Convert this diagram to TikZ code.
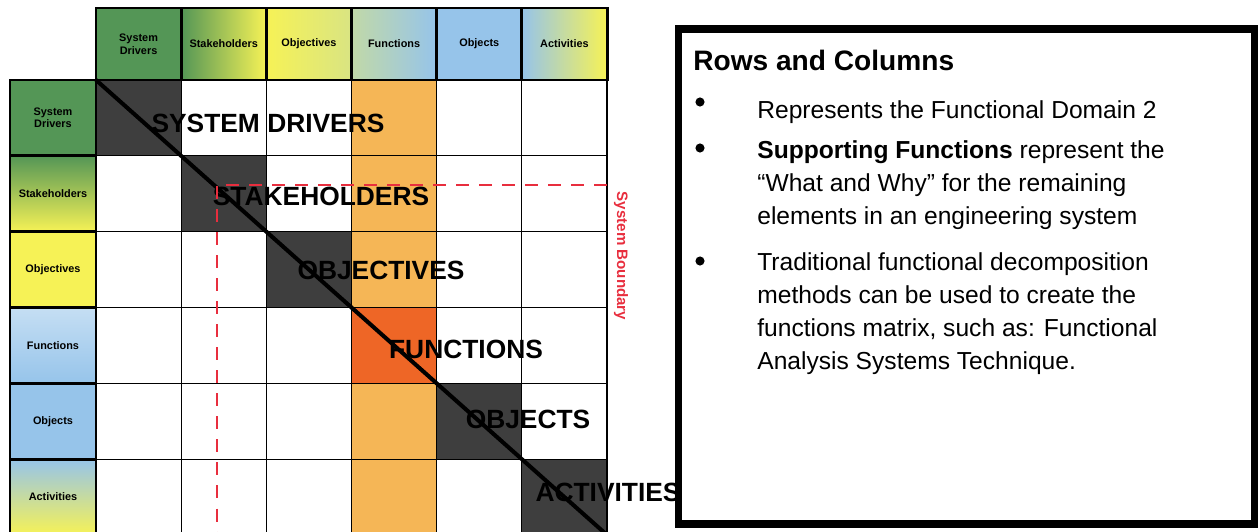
\documentclass[tikz,border=0pt]{standalone}
\usepackage{fontspec}
\setmainfont{Liberation Sans}
\definecolor{cGreen}{RGB}{84,150,86}
\definecolor{cYellow}{RGB}{246,242,86}
\definecolor{cBlue}{RGB}{150,196,234}
\definecolor{cOrange}{RGB}{245,182,86}
\definecolor{cRed}{RGB}{238,102,38}
\definecolor{cDark}{RGB}{62,62,62}
\definecolor{cBound}{RGB}{232,46,62}
\tikzset{
  cell/.style={draw=black, line width=0.7pt},
  hdr/.style={draw=black, line width=1.7pt},
  hdtxt/.style={font=\fontsize{6.2}{7.2}\selectfont\bfseries, align=center},
  diaglbl/.style={font=\fontsize{15}{15}\selectfont\bfseries},
  bound/.style={draw=cBound, line width=1.7pt, dash pattern=on 7.4pt off 5.7pt},
  bullettxt/.style={anchor=north west, inner sep=0pt, align=left,
    font=\fontsize{14}{18.8}\selectfont, execute at begin node=\strut},
  shG/.style={fill=cGreen},
  shY/.style={fill=cYellow},
  shB/.style={fill=cBlue},
  shGYh/.style={left color=cGreen, middle color=cGreen!55!cYellow, right color=cYellow},
  shYBh/.style={left color=cYellow, middle color=cYellow, right color=cYellow!70!cBlue},
  shYBh2/.style={left color=cYellow!45!cBlue, right color=cBlue},
  shBYh/.style={left color=cBlue, right color=cYellow},
  shGYv/.style={top color=cGreen, bottom color=cYellow},
  shBv/.style={top color=cBlue!55!white, bottom color=cBlue},
  shBYv/.style={top color=cBlue, bottom color=cYellow}
}
\begin{document}
\begin{tikzpicture}[x=0.02cm,y=-0.02cm]
\useasboundingbox (0,0) rectangle (1258,531);
\clip (0,0) rectangle (1258,531);
% matrix body
\foreach \r in {1,...,6}{
  \foreach \c in {1,...,6}{
    \def\col{white}
    \ifnum\c=4 \def\col{cOrange}\fi
    \ifnum\r=\c \def\col{cDark}\ifnum\c=4 \def\col{cRed}\fi\fi
    \draw[cell, fill=\col] ({96+(\c-1)*85.17},{80+(\r-1)*75.83}) rectangle +(85.17,75.83);
  }
}
% column and row headers
\foreach \i/\txt/\sty in {1/{System\\Drivers}/shG, 2/Stakeholders/shGYh, 3/Objectives/shYBh,
    4/Functions/shYBh2, 5/Objects/shB, 6/Activities/shBYh}{
  \path[hdr,\sty] ({96+(\i-1)*85.17},8) rectangle +(85.17,72);
  \node[hdtxt] (top\i) at ({96+(\i-0.5)*85.17},44) {\txt};
}
\foreach \i/\txt/\sty in {1/{System\\Drivers}/shG, 2/Stakeholders/shGYv, 3/Objectives/shY,
    4/Functions/shBv, 5/Objects/shB, 6/Activities/shBYv}{
  \path[hdr,\sty] (10,{80+(\i-1)*75.83}) rectangle +(86,75.83);
  \node[hdtxt] (side\i) at (53,{80+(\i-0.5)*75.83}) {\txt};
}
\draw[line width=1.7pt] (607,80) -- (607,540);
% diagonal
\coordinate (diagA) at (96,80);
\coordinate (diagB) at (607,535);
\draw[line width=2.3pt] (diagA) -- (diagB);
\foreach \n/\txt/\x/\y in {sd/SYSTEM DRIVERS/268/123, sk/STAKEHOLDERS/321/196,
    ob/OBJECTIVES/381/270, fn/FUNCTIONS/466/349, oj/OBJECTS/528/419, ac/ACTIVITIES/608/492}{
  \node[diaglbl] (lbl\n) at (\x,\y) {\txt};
}
% system boundary
\coordinate (bndA) at (607,185);
\coordinate (bndB) at (217,185);
\coordinate (bndC) at (217,540);
\draw[bound] (bndA) -- (bndB) -- (bndC);
\node[rotate=-90, text=cBound, font=\fontsize{8.6}{9}\selectfont\bfseries] (bndlbl) at (621,256) {System Boundary};
% text box
\draw[line width=4.3pt, fill=white] (678.5,29) rectangle (1255,524);
\node[anchor=base west, inner sep=0pt, font=\fontsize{16}{16}\selectfont\bfseries] (title) at (693,70) {Rows and Columns};
\foreach \y in {102,148,261}{
  \fill (700,\y) circle (2.6pt);
}
\node[bullettxt] (itemA) at (757,95) {Represents the Functional Domain 2};
\node[bullettxt] (itemB) at (757,140) {\textbf{Supporting Functions} represent the\\“What and Why” for the remaining\\elements in an engineering system};
\node[bullettxt] (itemC) at (757,252) {Traditional functional decomposition\\methods can be used to create the\\functions matrix, such as: Functional\\Analysis Systems Technique.};
\end{tikzpicture}
\end{document}
